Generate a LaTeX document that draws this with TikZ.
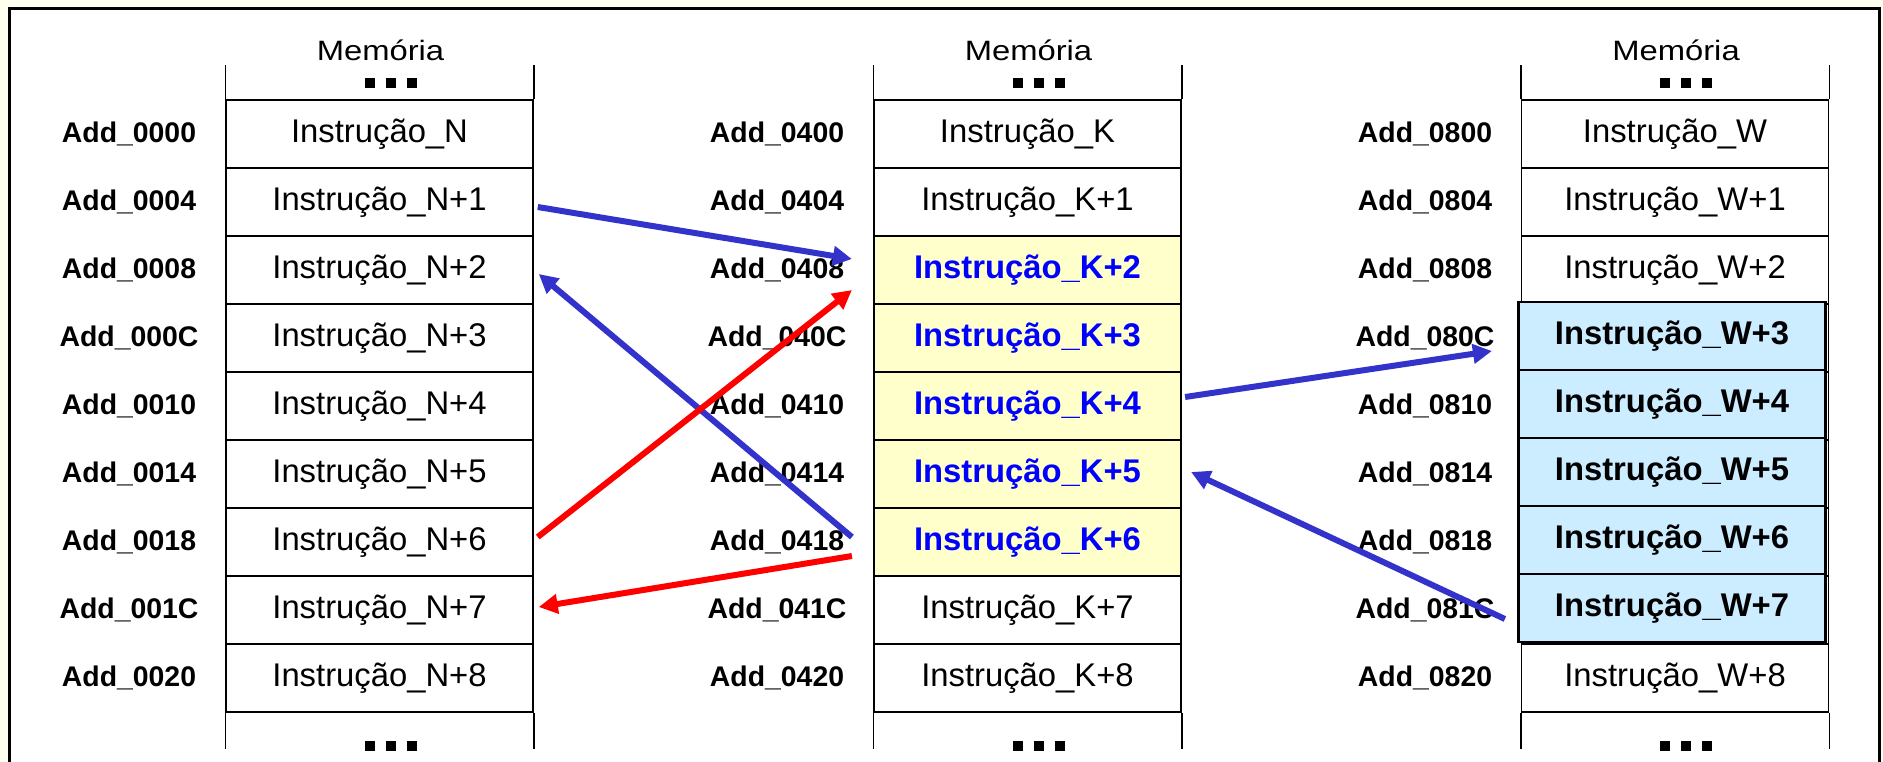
\documentclass[tikz,border=0pt]{standalone}
\usepackage{fontspec}
\usepackage{graphicx}
\setmainfont{Liberation Sans}
\usetikzlibrary{arrows.meta,calc}
\definecolor{cream}{RGB}{255,255,240}
\definecolor{lyellow}{RGB}{255,255,204}
\definecolor{lblue}{RGB}{204,236,255}
\definecolor{arrblue}{RGB}{51,51,204}
\definecolor{arrred}{RGB}{255,0,0}
\definecolor{txtblue}{RGB}{0,0,255}
\tikzset{
  cell/.style={draw, line width=0.75pt, rectangle, minimum width=153.5pt, minimum height=34pt, inner sep=0pt, fill=white, font=\fontsize{16.4}{18}\selectfont},
  hiy/.style={cell, fill=lyellow, line width=1.1pt, text=txtblue, font=\fontsize{16.4}{18}\selectfont\bfseries},
  hib/.style={cell, fill=lblue, line width=1.1pt, font=\fontsize{16.4}{18}\selectfont\bfseries},
  addr/.style={inner sep=0pt, font=\fontsize{14.2}{16}\selectfont\bfseries},
  memlabel/.style={inner sep=0pt, font=\fontsize{14}{16}\selectfont},
  sideline/.style={line width=0.75pt},
  barrow/.style={draw=arrblue, line width=3pt, -{Triangle[length=9.5pt,width=9.5pt]}},
  rarrow/.style={draw=arrred, line width=3pt, -{Triangle[length=9.5pt,width=9.5pt]}}
}
\begin{document}
\begin{tikzpicture}[x=0.5pt,y=-0.5pt]
\useasboundingbox (0,0) rectangle (1883,761);
\clip (0,0) rectangle (1883,761);
\fill[cream] (0,0) rectangle (1883,761);
\draw[line width=1.5pt, fill=white] (9.5,8) rectangle (1879.5,820);

% ---------- left column ----------
\foreach \i/\t/\ad in {0/N/0000,1/N+1/0004,2/N+2/0008,3/N+3/000C,4/N+4/0010,5/N+5/0014,6/N+6/0018,7/N+7/001C,8/N+8/0020}{
  \node[cell] (L\i) at (379.5,{134+68*\i}) {Instrução\_\t};
  \node[addr] (LA\i) at (129,{134+68*\i}) {Add\_\ad};
}
% ---------- middle column ----------
\foreach \i/\t/\ad in {0/K/0400,1/K+1/0404,7/K+7/041C,8/K+8/0420}{
  \node[cell] (M\i) at (1027.5,{134+68*\i}) {Instrução\_\t};
}
\foreach \i/\t in {2/K+2,3/K+3,4/K+4,5/K+5,6/K+6}{
  \node[hiy] (M\i) at (1027.5,{134+68*\i}) {Instrução\_\t};
}
\foreach \i/\ad in {0/0400,1/0404,2/0408,3/040C,4/0410,5/0414,6/0418,7/041C,8/0420}{
  \node[addr] (MA\i) at (777,{134+68*\i}) {Add\_\ad};
}
% ---------- right column ----------
\foreach \i/\t in {0/W,1/W+1,2/W+2,8/W+8}{
  \node[cell] (R\i) at (1675,{134+68*\i}) {Instrução\_\t};
}
\foreach \i in {3,4,5,6,7}{
  \node[cell] (R\i) at (1675,{134+68*\i}) {};
}
\foreach \i/\t in {3/W+3,4/W+4,5/W+5,6/W+6,7/W+7}{
  \node[hib] (RB\i) at (1672,{132+68*\i}) {Instrução\_\t};
}
\foreach \i/\ad in {0/0800,1/0804,2/0808,3/080C,4/0810,5/0814,6/0818,7/081C,8/0820}{
  \node[addr] (RA\i) at (1425,{134+68*\i}) {Add\_\ad};
}

% ---------- headers, side lines, dots ----------
\foreach \c/\cx in {L/379.5,M/1027.5,R/1675}{
  \node[memlabel] (\c mem) at (\cx+1,50) {\scalebox{1.17}[1]{Memória}};
  \draw[sideline] (\c0.north west) -- ++(0,-34);
  \draw[sideline] (\c0.north east) -- ++(0,-34);
  \draw[sideline] (\c8.south west) -- ++(0,36);
  \draw[sideline] (\c8.south east) -- ++(0,36);
  \foreach \dx in {-21,0,21}{
    \fill ({\cx+11+\dx-5},78) rectangle ++(10,10);
    \fill ({\cx+11+\dx-5},741) rectangle ++(10,10);
  }
}

% ---------- arrows ----------
\draw[barrow] ($(L1.east)+(4,5)$) -- ($(M2.west)+(-21,-11)$);
\draw[barrow] ($(M6.west)+(-21,-5)$) -- ($(L2.east)+(5,4)$);
\draw[rarrow] ($(L6.east)+(4,-5)$) -- ($(M3.west)+(-21,-48)$);
\draw[rarrow] ($(M6.west)+(-21,14)$) -- ($(L7.east)+(5,-3)$);
\draw[barrow] ($(M4.east)+(3,-9)$) -- ($(RB3.west)+(-25.5,15)$);
\draw[barrow] ($(RB7.west)+(-12.5,11)$) -- ($(M5.east)+(9,-2)$);
\end{tikzpicture}
\end{document}
